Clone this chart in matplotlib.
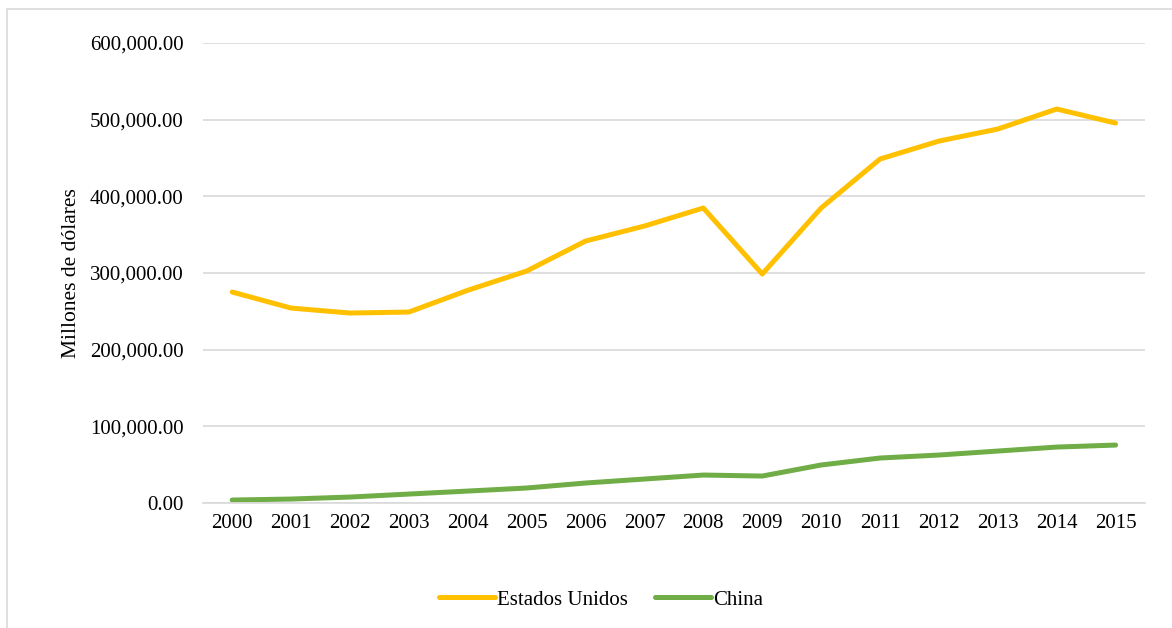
import matplotlib.pyplot as plt
from matplotlib.ticker import FuncFormatter
from matplotlib.patches import Rectangle

# datos (millones de dólares)
anios = ['2000', '2001', '2002', '2003', '2004', '2005', '2006', '2007',
         '2008', '2009', '2010', '2011', '2012', '2013', '2014', '2015']
estados_unidos = [275200, 254300, 247800, 249100, 277500, 302600, 341700, 361300,
                  384800, 298700, 384800, 448700, 472100, 487800, 513900, 495600]
china = [3900, 5200, 7800, 11700, 15600, 19600, 26100, 31300,
         36500, 35200, 49600, 58700, 62600, 67800, 73000, 75600]

plt.rcParams['font.family'] = ['Liberation Serif', 'DejaVu Serif']

fig = plt.figure(figsize=(11.72, 6.28), dpi=100)
ax = fig.add_axes([0.173, 0.199, 0.804, 0.7325])

x = list(range(len(anios)))
ax.plot(x, estados_unidos, color='#FFC000', linewidth=3.6, solid_capstyle='round', label='Estados Unidos')
ax.plot(x, china, color='#70AD47', linewidth=3.6, solid_capstyle='round', label='China')

ax.set_xlim(-0.5, len(anios) - 0.5)
ax.set_ylim(0, 600000)
ax.set_yticks(range(0, 600001, 100000))
ax.yaxis.set_major_formatter(FuncFormatter(lambda v, p: f'{v:,.2f}'))
ax.set_xticks(x)
ax.set_xticklabels(anios)
ax.tick_params(axis='both', length=0, labelsize=15, colors='black')
ax.tick_params(axis='y', pad=14)
ax.tick_params(axis='x', pad=8)

ax.grid(axis='y', color='#D9D9D9', linewidth=1.2)
ax.set_axisbelow(True)
for s in ['top', 'right', 'left']:
    ax.spines[s].set_visible(False)
ax.spines['bottom'].set_color('#D9D9D9')
ax.spines['bottom'].set_linewidth(1.2)

ax.set_ylabel('Millones de dólares', fontsize=15.5, labelpad=6)

fig.legend(loc='center', bbox_to_anchor=(0.513, 0.045), ncol=2, frameon=False,
           fontsize=15, handlelength=2.7, handletextpad=0.1, columnspacing=1.3)

# borde del gráfico
fig.patches.append(Rectangle((0.006, -0.01), 1.0, 0.996, transform=fig.transFigure,
                             fill=False, edgecolor='#D9D9D9', linewidth=1.2))

plt.savefig('out.png')
